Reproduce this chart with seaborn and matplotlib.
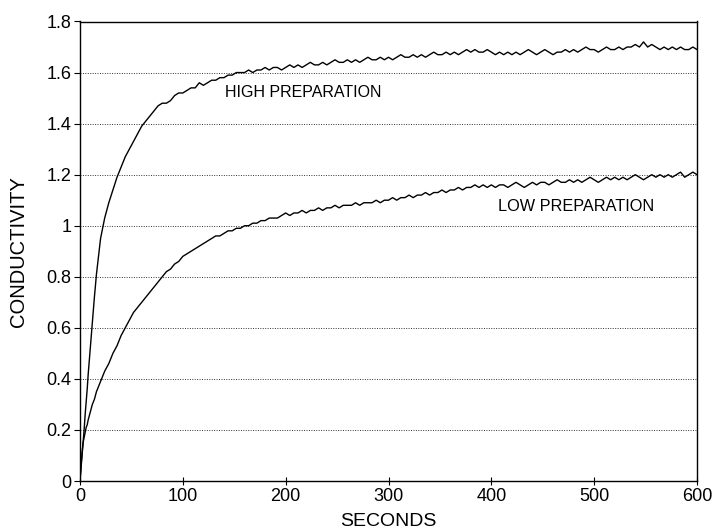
import numpy as np
import pandas as pd
import matplotlib
matplotlib.use("Agg")
import matplotlib.pyplot as plt
import seaborn as sns

# ---- data ----
early_seconds = [0, 1, 2, 3, 4, 5, 6, 7, 8, 10, 12, 14, 16, 18, 20]
late_seconds = list(range(24, 601, 4))
seconds = early_seconds + late_seconds

high_prep = [
    0.00, 0.05, 0.10, 0.15, 0.20, 0.26, 0.31, 0.36, 0.42, 0.52, 0.62, 0.72, 0.81, 0.88, 0.95,
    # 24 .. 200
    1.03, 1.09, 1.14, 1.19, 1.23, 1.27, 1.30, 1.33, 1.36, 1.39,
    1.41, 1.43, 1.45, 1.47, 1.48, 1.48, 1.49, 1.51, 1.52, 1.52,
    1.53, 1.54, 1.54, 1.56, 1.55, 1.56, 1.57, 1.57, 1.58, 1.58,
    1.59, 1.59, 1.60, 1.60, 1.60, 1.61, 1.60, 1.61, 1.61, 1.62,
    1.61, 1.62, 1.62, 1.61, 1.62,
    # 204 .. 600
    1.63, 1.62, 1.63, 1.62, 1.63, 1.64, 1.63, 1.63, 1.64, 1.63,
    1.64, 1.65, 1.64, 1.64, 1.65, 1.64, 1.65, 1.64, 1.65, 1.66,
    1.65, 1.65, 1.66, 1.65, 1.66, 1.65, 1.66, 1.67, 1.66, 1.66,
    1.67, 1.66, 1.67, 1.66, 1.67, 1.68, 1.67, 1.67, 1.68, 1.67,
    1.68, 1.67, 1.68, 1.69, 1.68, 1.69, 1.68, 1.68, 1.69, 1.68,
    1.67, 1.68, 1.67, 1.68, 1.67, 1.68, 1.67, 1.68, 1.69, 1.68,
    1.67, 1.68, 1.69, 1.68, 1.67, 1.68, 1.68, 1.69, 1.68, 1.69,
    1.68, 1.69, 1.70, 1.69, 1.69, 1.68, 1.69, 1.70, 1.69, 1.69,
    1.70, 1.69, 1.70, 1.70, 1.71, 1.70, 1.72, 1.70, 1.71, 1.70,
    1.69, 1.70, 1.69, 1.70, 1.69, 1.70, 1.69, 1.69, 1.70, 1.69,
]

low_prep = [
    0.00, 0.06, 0.11, 0.15, 0.17, 0.19, 0.21, 0.22, 0.24, 0.27, 0.30, 0.32, 0.35, 0.37, 0.39,
    # 24 .. 200
    0.43, 0.46, 0.50, 0.53, 0.57, 0.60, 0.63, 0.66, 0.68, 0.70,
    0.72, 0.74, 0.76, 0.78, 0.80, 0.82, 0.83, 0.85, 0.86, 0.88,
    0.89, 0.90, 0.91, 0.92, 0.93, 0.94, 0.95, 0.96, 0.96, 0.97,
    0.98, 0.98, 0.99, 0.99, 1.00, 1.00, 1.01, 1.01, 1.02, 1.02,
    1.03, 1.03, 1.03, 1.04, 1.05,
    # 204 .. 600
    1.04, 1.05, 1.05, 1.06, 1.05, 1.06, 1.06, 1.07, 1.06, 1.07,
    1.07, 1.08, 1.07, 1.08, 1.08, 1.08, 1.09, 1.08, 1.09, 1.09,
    1.09, 1.10, 1.09, 1.10, 1.10, 1.11, 1.10, 1.11, 1.11, 1.12,
    1.11, 1.12, 1.12, 1.13, 1.12, 1.13, 1.13, 1.14, 1.13, 1.14,
    1.14, 1.15, 1.14, 1.15, 1.15, 1.16, 1.15, 1.16, 1.15, 1.16,
    1.15, 1.16, 1.16, 1.15, 1.16, 1.17, 1.16, 1.15, 1.16, 1.17,
    1.16, 1.17, 1.17, 1.16, 1.17, 1.18, 1.17, 1.17, 1.18, 1.17,
    1.18, 1.17, 1.18, 1.19, 1.18, 1.17, 1.18, 1.19, 1.18, 1.19,
    1.18, 1.19, 1.18, 1.19, 1.20, 1.19, 1.18, 1.19, 1.20, 1.19,
    1.20, 1.19, 1.20, 1.19, 1.20, 1.21, 1.19, 1.20, 1.21, 1.20,
]

x_ticks = [0, 100, 200, 300, 400, 500, 600]
x_tick_labels = ["0", "100", "200", "300", "400", "500", "600"]
y_ticks = [0, 0.2, 0.4, 0.6, 0.8, 1.0, 1.2, 1.4, 1.6, 1.8]
y_tick_labels = ["0", "0.2", "0.4", "0.6", "0.8", "1", "1.2", "1.4", "1.6", "1.8"]

df = pd.DataFrame({
    "SECONDS": seconds * 2,
    "CONDUCTIVITY": high_prep + low_prep,
    "series": ["HIGH PREPARATION"] * len(seconds) + ["LOW PREPARATION"] * len(seconds),
})

sns.set_theme(style="white")
plt.rcParams["font.family"] = ["Liberation Sans", "DejaVu Sans"]
plt.rcParams["text.color"] = "black"
plt.rcParams["axes.labelcolor"] = "black"
plt.rcParams["xtick.color"] = "black"
plt.rcParams["ytick.color"] = "black"

fig = plt.figure(figsize=(7.13, 5.32), dpi=100)
ax = fig.add_axes([80 / 713, 1 - 481 / 532, (697 - 80) / 713, (481 - 21.5) / 532])

sns.lineplot(data=df, x="SECONDS", y="CONDUCTIVITY", hue="series",
             palette=["black", "black"], linewidth=1.0, legend=False, ax=ax)

ax.set_xlim(0, 600)
ax.set_ylim(0, 1.8)
ax.set_xticks(x_ticks)
ax.set_xticklabels(x_tick_labels, fontsize=13)
ax.set_yticks(y_ticks)
ax.set_yticklabels(y_tick_labels, fontsize=13)

for y in y_ticks[1:-1]:
    ax.axhline(y, color="#333333", linestyle=(0, (1, 1.5)), linewidth=0.7, zorder=0)

ax.tick_params(axis="y", direction="out", length=4, width=0.8, colors="black", pad=2, left=True)
ax.tick_params(axis="x", direction="inout", length=6, width=0.8, colors="black", pad=2, bottom=True)

for s in ax.spines.values():
    s.set_color("black")
    s.set_linewidth(1.0)

ax.set_xlabel("SECONDS", fontsize=14, color="black")
ax.set_ylabel("CONDUCTIVITY", fontsize=14.5, color="black")
ax.xaxis.label.set_va("center")
ax.xaxis.set_label_coords(0.5, (481 - 522) / 459.5)
ax.yaxis.label.set_va("center")
ax.yaxis.label.set_ha("center")
ax.yaxis.set_label_coords((18.5 - 80) / 617, 0.5)

ax.text(141, 1.52, "HIGH PREPARATION", fontsize=11.5, va="center", ha="left", color="black")
ax.text(406, 1.075, "LOW PREPARATION", fontsize=11.7, va="center", ha="left", color="black")

fig.savefig("out.png", dpi=100, facecolor="white")
